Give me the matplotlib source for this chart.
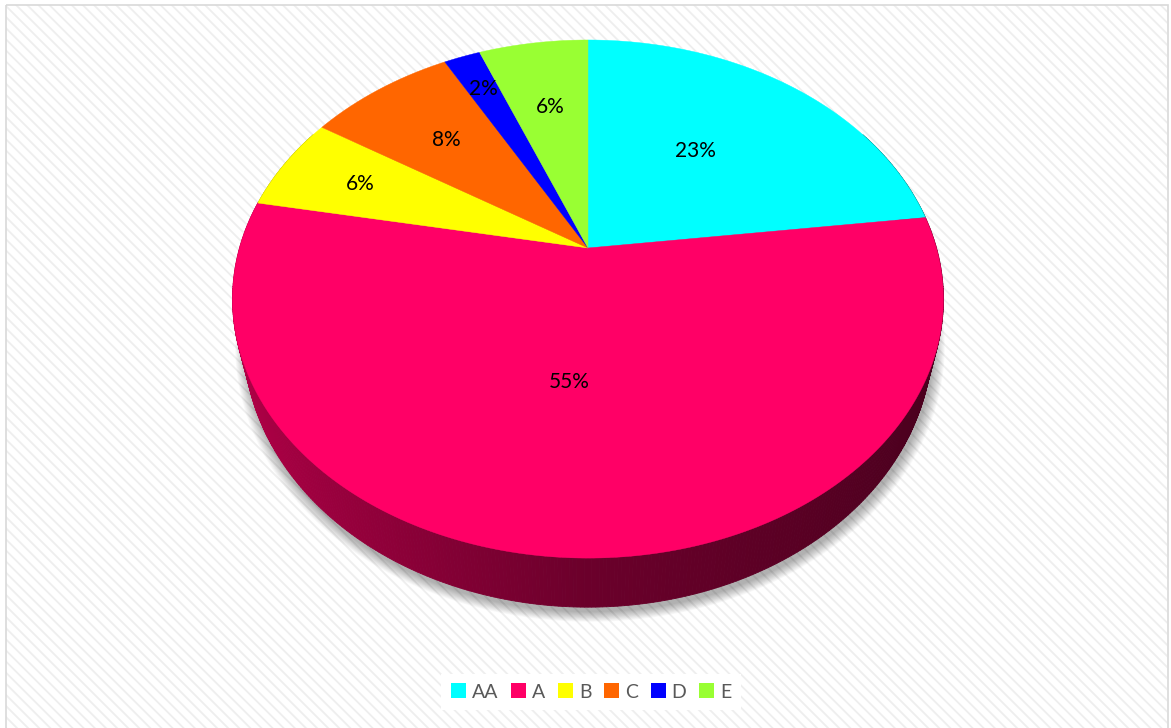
import numpy as np
import matplotlib
matplotlib.use("Agg")
import matplotlib.pyplot as plt
from matplotlib.patches import Polygon, Rectangle, Patch
from matplotlib import colors as mcolors

# ---- data ----
categories = ["AA", "A", "B", "C", "D", "E"]
values = [23, 55, 6, 8, 2, 6]
slice_colors = ["#00FFFF", "#FF0066", "#FFFF00", "#FF6600", "#0000FF", "#99FF33"]

# ---- layout / style ----
label_r = [0.54, 0.49, 0.74, 0.65, 0.81, 0.65]
label_dtheta = [-3, 4, 0, 0, 0, 0]   # small angular nudges of label placement
W, H_px = 1171, 728
cx, cy = 588.0, 248.0      # apex of slices on screen
A_ax, B_ax = 348.5, 249.0  # projected radii
persp = 0.197              # perspective strength
depth = 39.4               # extrusion depth
bottom_shrink = 0.968      # bottom face is farther from the camera

plt.rcParams["font.family"] = ["Lato", "DejaVu Sans"]
plt.rcParams["hatch.linewidth"] = 1.3

fig = plt.figure(figsize=(W / 100, H_px / 100), dpi=100)
ax = fig.add_axes([0, 0, 1, 1])
ax.set_xlim(0, W)
ax.set_ylim(H_px, 0)
ax.axis("off")


def proj(theta_deg, r=1.0, z=0.0):
    t = np.radians(theta_deg)
    u = r * np.sin(t)
    v = r * np.cos(t)
    w = 1 + persp * v
    s = bottom_shrink if z > 0 else 1.0
    X = cx + s * A_ax * u / w
    Y = cy - B_ax * v / w + z / w
    return X, Y


# background
bg = Rectangle((6, 5), 1161, 740, facecolor="white", edgecolor="#EEEEEE",
               lw=0, hatch="\\\\\\", zorder=0)
ax.add_patch(bg)
ax.add_patch(Rectangle((5.5, 4.5), 1162, 740, facecolor="none",
                       edgecolor="#D9D9D9", lw=1.2, zorder=0.5))

total = float(sum(values))
fracs = np.array(values) / total
starts = np.concatenate([[0], np.cumsum(fracs)[:-1]]) * 360
ends = np.cumsum(fracs) * 360

# shadow
th = np.linspace(0, 360, 400)
bx, by = proj(th, 1.0, depth)
for i in range(14):
    s = 1.0 + i * 0.0024
    sx = cx + (bx - cx) * s + 2
    sy = (cy + 51) + (by - (cy + 51)) * s + 5
    ax.add_patch(Polygon(np.column_stack([sx, sy]), closed=True,
                         facecolor="black", edgecolor="none", alpha=0.022, zorder=1))


def slice_of(theta):
    for k in range(len(values)):
        if starts[k] <= theta % 360 < ends[k]:
            return k
    return len(values) - 1


# side (extrusion)
grid = np.linspace(60, 300, 481)
quads = []
for t1, t2 in zip(grid[:-1], grid[1:]):
    tm = 0.5 * (t1 + t2)
    k = slice_of(tm)
    u = np.sin(np.radians(tm))
    v = np.cos(np.radians(tm))
    f = 0.42 - 0.29 * u if u < 0 else 0.42 - 0.14 * u
    base = np.array(mcolors.to_rgb(slice_colors[k]))
    col = np.clip(base * f, 0, 1)
    x1, y1 = proj(t1)
    x2, y2 = proj(t2)
    x3, y3 = proj(t2, 1.0, depth)
    x4, y4 = proj(t1, 1.0, depth)
    quads.append((v, [(x1, y1), (x2, y2), (x3, y3), (x4, y4)], col))
quads.sort(key=lambda q: -q[0])
for v, pts, col in quads:
    ax.add_patch(Polygon(pts, closed=True, facecolor=col, edgecolor=col,
                         lw=0.6, zorder=2))

# top slices
for k in range(len(values)):
    ts = np.linspace(starts[k], ends[k], 200)
    xs, ys = proj(ts)
    pts = np.column_stack([np.concatenate([[cx], xs]), np.concatenate([[cy], ys])])
    ax.add_patch(Polygon(pts, closed=True, facecolor=slice_colors[k],
                         edgecolor=slice_colors[k], lw=0.3, zorder=3))

# labels
for k in range(len(values)):
    mid = 0.5 * (starts[k] + ends[k]) + label_dtheta[k]
    lx, ly = proj(mid, label_r[k])
    ax.text(lx, ly, "%.0f%%" % (fracs[k] * 100), ha="center", va="center",
            fontsize=15, color="black", zorder=5)

# legend
handles = [Patch(facecolor=c, edgecolor="none") for c in slice_colors]
leg = ax.legend(handles, categories, loc="center", bbox_to_anchor=(591 / W, 1 - 692 / H_px),
                ncol=6, fontsize=14, handlelength=0.78, handleheight=0.78,
                handletextpad=0.3, columnspacing=0.65, frameon=True, fancybox=False,
                borderpad=0.5, labelcolor="#595959")
leg.get_frame().set_facecolor("white")
leg.get_frame().set_edgecolor("none")
leg.get_frame().set_alpha(1)
leg.set_zorder(6)

fig.savefig("out.png", dpi=100)
